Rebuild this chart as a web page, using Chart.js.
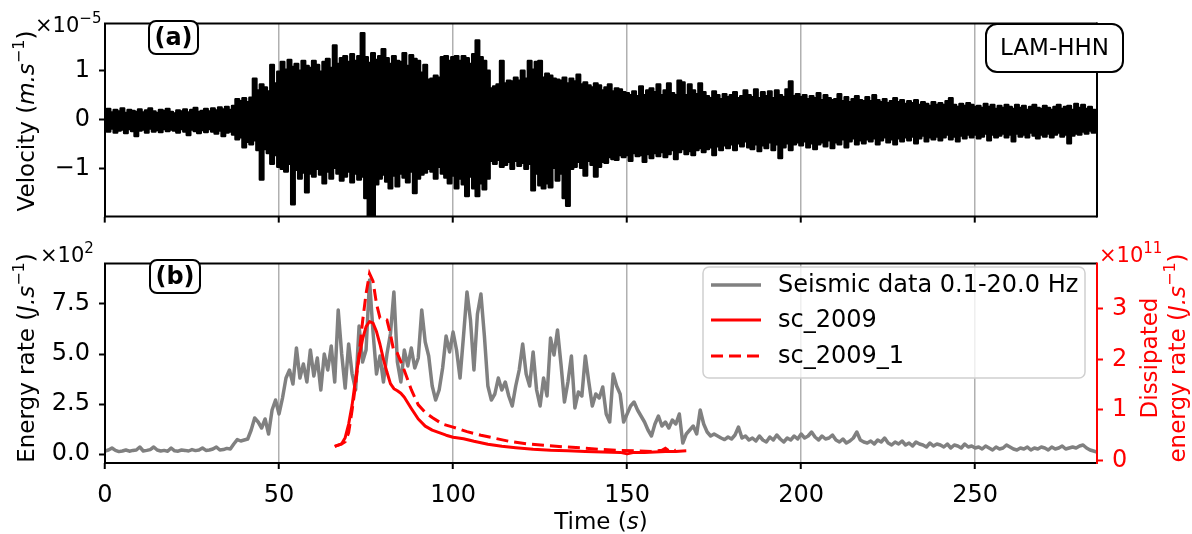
<!DOCTYPE html>
<html>
<head>
<meta charset="utf-8">
<script src="https://cdn.jsdelivr.net/npm/chart.js@4.4.0/dist/chart.umd.min.js"></script>
<style>
  body { margin: 0; background: #fff; width: 1192px; height: 534px; overflow: hidden; position: relative; }
  #velChart { position: absolute; left: 0; top: 0; }
  #energyChart { position: absolute; left: 0; top: 240px; }
</style>
</head>
<body>
<canvas id="velChart" width="1192" height="240"></canvas>
<canvas id="energyChart" width="1192" height="294"></canvas>
<script>
// time base of the envelopes / energy rate (s), one sample per second
var sampleTimes = [];
for (var s = 0; s <= 285; s++) sampleTimes.push(s);

// (a) LAM-HHN velocity, upper and lower envelope per second (x 1e-5 m/s)
var velUpper = [
    0.18, 0.22, 0.15, 0.2, 0.17, 0.23, 0.14, 0.2, 0.18, 0.16,
    0.21, 0.15, 0.19, 0.23, 0.17, 0.14, 0.2, 0.18, 0.22, 0.16,
    0.13, 0.19, 0.17, 0.21, 0.15, 0.2, 0.24, 0.16, 0.18, 0.22,
    0.17, 0.23, 0.19, 0.25, 0.21, 0.26, 0.2, 0.28, 0.42, 0.38,
    0.44, 0.36, 0.45, 0.84, 0.6, 0.72, 0.66, 0.58, 1.12, 0.74,
    0.98, 1.18, 1.02, 1.22, 1.08, 1.14, 1.0, 1.2, 1.1, 1.06,
    1.2, 1.12, 0.98, 1.18, 1.24, 1.06, 1.52, 1.14, 1.26, 1.3,
    1.18, 1.34, 1.2, 1.3, 1.77, 1.28, 1.16, 1.36, 1.22, 1.3,
    1.44, 1.26, 1.14, 1.3, 1.2, 1.18, 1.36, 1.1, 1.32, 1.24,
    1.2, 0.96, 1.12, 0.82, 0.84, 0.9, 0.86, 1.28, 1.3, 1.2,
    1.28, 1.3, 1.2, 1.3, 1.26, 1.14, 1.34, 1.62, 1.28, 1.2,
    1.0, 0.64, 0.68, 0.72, 1.2, 0.74, 0.8, 0.78, 0.86, 0.8,
    1.0, 0.84, 1.2, 1.02, 1.18, 1.2, 0.86, 0.94, 0.9, 0.84,
    0.82, 0.8, 0.86, 0.74, 0.84, 0.78, 0.92, 0.72, 0.76, 0.7,
    0.66, 0.74, 0.7, 0.6, 0.66, 0.72, 0.58, 0.64, 0.62, 0.56,
    0.54, 0.5, 0.58, 0.48, 0.68, 0.5, 0.6, 0.64, 0.56, 0.72,
    0.5, 0.6, 0.74, 0.54, 0.5, 0.8, 0.76, 0.5, 0.72, 0.6,
    0.52, 0.74, 0.56, 0.48, 0.44, 0.58, 0.5, 0.42, 0.52, 0.46,
    0.5, 0.56, 0.44, 0.48, 0.6, 0.5, 0.46, 0.62, 0.44, 0.56,
    0.48, 0.58, 0.44, 0.6, 0.5, 0.46, 0.62, 0.78, 0.48, 0.52,
    0.46, 0.5, 0.42, 0.48, 0.44, 0.54, 0.4, 0.5, 0.44, 0.4,
    0.42, 0.52, 0.38, 0.46, 0.36, 0.42, 0.48, 0.4, 0.38, 0.46,
    0.38, 0.5, 0.4, 0.36, 0.42, 0.34, 0.38, 0.44, 0.36, 0.4,
    0.32, 0.38, 0.34, 0.4, 0.3, 0.36, 0.32, 0.28, 0.36, 0.3,
    0.34, 0.3, 0.38, 0.44, 0.3, 0.26, 0.32, 0.28, 0.34, 0.3,
    0.26, 0.28, 0.24, 0.32, 0.26, 0.3, 0.22, 0.28, 0.24, 0.3,
    0.26, 0.22, 0.3, 0.24, 0.28, 0.2, 0.26, 0.3, 0.24, 0.22,
    0.28, 0.24, 0.2, 0.26, 0.3, 0.22, 0.26, 0.28, 0.2, 0.32,
    0.24, 0.3, 0.22, 0.26, 0.2, 0.18
];
var velLower = [
    -0.2, -0.24, -0.18, -0.26, -0.22, -0.2, -0.27, -0.19, -0.23, -0.33,
    -0.22, -0.2, -0.26, -0.18, -0.24, -0.21, -0.25, -0.19, -0.23, -0.2,
    -0.22, -0.26, -0.19, -0.24, -0.31, -0.2, -0.23, -0.27, -0.21, -0.25,
    -0.19, -0.24, -0.28, -0.22, -0.33, -0.26, -0.24, -0.3, -0.4, -0.36,
    -0.56, -0.45, -0.5, -0.42, -0.62, -1.22, -0.6, -0.68, -0.9, -0.72,
    -0.96, -1.0, -1.06, -0.9, -1.73, -1.02, -1.2, -1.08, -1.48, -1.1,
    -1.16, -1.0, -1.12, -1.3, -1.06, -1.2, -0.98, -1.1, -1.24, -1.16,
    -1.06, -1.28, -1.1, -1.22, -1.16, -1.6, -1.98, -1.98, -1.32, -1.2,
    -1.12, -1.26, -1.4, -1.14, -1.36, -1.1, -1.18, -1.28, -1.06, -1.5,
    -1.2, -1.12, -1.08, -1.0, -1.06, -1.2, -0.96, -1.1, -1.18, -1.3,
    -1.14, -1.4, -1.2, -1.32, -1.56, -1.16, -1.4, -1.56, -1.3, -1.42,
    -1.2, -0.84, -0.9, -0.82, -0.96, -0.92, -0.86, -1.0, -0.84, -0.94,
    -0.88, -1.0, -0.9, -1.44, -1.1, -1.34, -1.4, -1.3, -1.38, -0.98,
    -1.24, -1.1, -1.6, -1.76, -1.0, -0.96, -0.86, -0.98, -1.14, -0.84,
    -0.92, -1.16, -0.96, -0.86, -0.88, -0.76, -0.8, -0.82, -0.72, -0.76,
    -0.72, -0.84, -0.68, -0.74, -0.72, -0.86, -0.7, -0.78, -0.68, -0.74,
    -0.66, -0.76, -0.7, -0.62, -0.8, -0.66, -0.6, -0.7, -0.64, -0.72,
    -0.62, -0.58, -0.66, -0.6, -0.56, -0.72, -0.54, -0.62, -0.52, -0.58,
    -0.5, -0.62, -0.48, -0.54, -0.44, -0.56, -0.6, -0.5, -0.64, -0.52,
    -0.58, -0.46, -0.62, -0.5, -0.78, -0.56, -0.48, -0.62, -0.5, -0.46,
    -0.52, -0.44, -0.56, -0.48, -0.6, -0.5, -0.46, -0.54, -0.42, -0.58,
    -0.46, -0.5, -0.4, -0.56, -0.44, -0.38, -0.5, -0.42, -0.48, -0.4,
    -0.44, -0.38, -0.5, -0.42, -0.36, -0.46, -0.4, -0.5, -0.38, -0.44,
    -0.36, -0.42, -0.34, -0.48, -0.38, -0.32, -0.44, -0.36, -0.4, -0.34,
    -0.42, -0.36, -0.3, -0.4, -0.34, -0.44, -0.32, -0.38, -0.3, -0.36,
    -0.3, -0.38, -0.34, -0.28, -0.42, -0.3, -0.36, -0.32, -0.28, -0.36,
    -0.3, -0.44, -0.28, -0.34, -0.3, -0.36, -0.26, -0.32, -0.38, -0.3,
    -0.34, -0.28, -0.36, -0.3, -0.26, -0.34, -0.3, -0.48, -0.32, -0.28,
    -0.3, -0.24, -0.28, -0.22, -0.26, -0.2
];

// (b) seismic energy rate 0.1-20.0 Hz (x 1e2 J/s)
var energyRate = [
    0.15, 0.2, 0.3, 0.18, 0.12, 0.15, 0.2, 0.14, 0.18, 0.2,
    0.35, 0.15, 0.18, 0.22, 0.35, 0.2, 0.15, 0.18, 0.14, 0.3,
    0.16, 0.14, 0.2, 0.18, 0.15, 0.22, 0.17, 0.2, 0.3, 0.18,
    0.2, 0.25, 0.35, 0.2, 0.22, 0.28, 0.25, 0.5, 0.72, 0.65,
    0.7, 0.75, 1.2, 1.8, 1.6, 1.3, 1.75, 1.0, 2.2, 2.7,
    2.0, 2.8, 3.8, 4.2, 3.5, 5.3, 3.8, 4.5, 3.6, 5.2,
    3.9, 4.8, 3.2, 5.0, 4.2, 5.4, 3.6, 7.2, 5.0, 3.3,
    5.5, 4.0, 3.2, 6.4, 4.6, 5.2, 8.7, 6.1, 4.0, 4.9,
    3.6, 5.0, 6.0, 8.1, 4.6, 3.6, 5.2, 4.4, 5.3, 4.3,
    4.8, 7.2, 5.6, 4.9, 3.4, 2.7, 3.2, 4.3, 5.9, 5.1,
    6.1, 5.2, 3.8, 5.9, 8.1, 6.7, 4.2, 7.0, 8.0, 5.9,
    3.4, 2.7, 3.0, 3.8, 3.2, 3.6, 2.9, 2.4, 3.4, 4.2,
    5.5, 4.0, 3.4, 5.1, 3.2, 2.4, 3.8, 2.9, 5.8, 4.95,
    6.2, 4.5, 2.6, 3.6, 4.9, 2.3, 3.1, 2.9, 4.9, 3.6,
    2.4, 3.0, 2.8, 3.35, 2.0, 1.6, 4.0, 3.4, 3.0, 1.6,
    2.0, 2.4, 2.6, 2.2, 1.9, 1.6, 1.2, 0.9, 1.5, 1.9,
    1.4, 1.6, 1.3, 1.7, 1.5, 2.0, 0.55, 1.0, 1.2, 1.4,
    1.0, 2.2, 1.5, 1.1, 0.9, 1.0, 0.9, 0.8, 0.72, 0.85,
    0.75, 0.95, 1.35, 0.8, 0.9, 0.7, 0.8, 0.65, 0.9, 0.7,
    0.6, 0.85, 0.7, 0.95, 0.75, 0.6, 0.8, 0.7, 0.9, 0.75,
    1.0, 0.8, 0.9, 1.1, 0.85, 0.7, 0.9, 0.75, 0.8, 0.95,
    0.7, 0.6, 0.75, 0.55, 0.65, 0.8, 1.1, 0.7, 0.6, 0.55,
    0.65, 0.5, 0.7, 0.6, 0.8, 0.55, 0.45, 0.6, 0.5, 0.65,
    0.45, 0.55, 0.4, 0.6, 0.5, 0.45, 0.35, 0.55, 0.4, 0.5,
    0.45, 0.35, 0.5, 0.3, 0.45, 0.4, 0.3, 0.5, 0.35, 0.4,
    0.3, 0.35, 0.25, 0.4, 0.3, 0.2, 0.35, 0.25, 0.3, 0.45,
    0.35, 0.25, 0.2, 0.3, 0.25, 0.35, 0.2, 0.3, 0.25, 0.35,
    0.3, 0.2, 0.35, 0.25, 0.3, 0.4, 0.25, 0.3, 0.35, 0.3,
    0.4, 0.45, 0.3, 0.2, 0.15, 0.1
];

// dissipated energy rate of the models (x 1e11 J/s)
var sc2009Time = [66, 68, 69, 70, 71, 72, 73, 74, 75, 76, 77, 78, 79, 80, 81, 82, 83, 84, 85, 86, 88, 90, 92, 94, 96, 98,
    100, 103, 106, 110, 114, 118, 123, 128, 133, 138, 143, 148, 150, 152, 155, 158, 161, 164, 167];
var sc2009Rate = [0.28, 0.33, 0.45, 0.72, 1.1, 1.62, 2.05, 2.4, 2.65, 2.75, 2.72, 2.55, 2.3, 2.0, 1.75, 1.52, 1.42, 1.38, 1.33, 1.25,
    1.03, 0.82, 0.68, 0.6, 0.55, 0.5, 0.46, 0.43, 0.38, 0.32, 0.28, 0.25, 0.22, 0.2, 0.19, 0.18, 0.17, 0.16, 0.13, 0.16,
    0.16, 0.17, 0.18, 0.18, 0.19];
var sc2009bTime = [66, 68, 69, 70, 71, 72, 73, 74, 75, 76, 77, 78, 79, 80, 81, 82, 83, 84, 85, 86, 88, 90, 92, 94, 97,
    100, 104, 108, 112, 116, 121, 126, 132, 137, 142, 147, 152, 157, 160, 161, 162, 164];
var sc2009bRate = [0.28, 0.33, 0.37, 0.55, 1.0, 1.5, 2.1, 2.75, 3.3, 3.7, 3.55, 3.1, 2.82, 2.8, 2.78, 2.5, 2.15, 2.12, 1.95, 1.78,
    1.4, 1.1, 0.95, 0.85, 0.72, 0.66, 0.57, 0.5, 0.44, 0.38, 0.33, 0.3, 0.27, 0.25, 0.22, 0.2, 0.19, 0.18, 0.2, 0.24,
    0.19, 0.2];

// tick values
var timeTicks = [0, 50, 100, 150, 200, 250];
var velTicks = [-1, 0, 1];
var energyTicks = [0, 2.5, 5, 7.5];
var dissTicks = [0, 1, 2, 3];

var FONT = '"DejaVu Sans", sans-serif';
Chart.defaults.font.family = FONT;
Chart.defaults.color = '#000';

function toPoints(xs, ys) {
    return xs.map(function (x, i) { return { x: x, y: ys[i] }; });
}

function setTicks(values) {
    return function (scale) {
        scale.ticks = values.map(function (v) { return { value: v }; });
    };
}

function minusSign(v) {
    return v < 0 ? '\u2212' + Math.abs(v) : String(v);
}

function roundRect(ctx, x, y, w, h, r) {
    ctx.beginPath();
    ctx.moveTo(x + r, y);
    ctx.lineTo(x + w - r, y);
    ctx.arcTo(x + w, y, x + w, y + r, r);
    ctx.lineTo(x + w, y + h - r);
    ctx.arcTo(x + w, y + h, x + w - r, y + h, r);
    ctx.lineTo(x + r, y + h);
    ctx.arcTo(x, y + h, x, y + h - r, r);
    ctx.lineTo(x, y + r);
    ctx.arcTo(x, y, x + r, y, r);
    ctx.closePath();
}

function runFont(run, size) {
    var sz = run.sup ? Math.round(size * 0.7) : size;
    return (run.it ? 'italic ' : '') + (run.b ? 'bold ' : '') + sz + 'px ' + FONT;
}

// text made of runs (italic, superscript), optionally rotated
function drawRich(ctx, item) {
    ctx.save();
    ctx.translate(item.x, item.y);
    ctx.rotate(item.angle || 0);
    var total = 0;
    item.runs.forEach(function (r) {
        ctx.font = runFont(r, item.size);
        r.w = ctx.measureText(r.t).width;
        total += r.w;
    });
    var cx = item.align === 'center' ? -total / 2 : (item.align === 'right' ? -total : 0);
    ctx.fillStyle = item.color || '#000';
    ctx.textAlign = 'left';
    ctx.textBaseline = 'alphabetic';
    item.runs.forEach(function (r) {
        ctx.font = runFont(r, item.size);
        ctx.fillText(r.t, cx, r.sup ? -item.size * 0.45 : 0);
        cx += r.w;
    });
    ctx.restore();
}

var panelDecor = {
    id: 'panelDecor',
    afterDatasetsDraw: function (chart, args, opts) {
        var a = chart.chartArea, ctx = chart.ctx;
        ctx.save();
        ctx.lineWidth = 2;
        ctx.strokeStyle = '#000';
        ctx.beginPath();
        ctx.moveTo(a.right, a.top); ctx.lineTo(a.left, a.top);
        ctx.lineTo(a.left, a.bottom); ctx.lineTo(a.right, a.bottom);
        ctx.stroke();
        ctx.strokeStyle = opts.rightSpine || '#000';
        ctx.beginPath();
        ctx.moveTo(a.right, a.top - 1); ctx.lineTo(a.right, a.bottom + 1);
        ctx.stroke();
        ctx.restore();
    },
    afterDraw: function (chart, args, opts) {
        var ctx = chart.ctx;
        (opts.boxes || []).forEach(function (b) {
            ctx.save();
            roundRect(ctx, b.x, b.y, b.w, b.h, b.r);
            ctx.fillStyle = '#fff';
            ctx.fill();
            ctx.lineWidth = 2;
            ctx.strokeStyle = '#000';
            ctx.stroke();
            ctx.fillStyle = '#000';
            ctx.font = (b.bold ? 'bold ' : '') + b.size + 'px ' + FONT;
            ctx.textAlign = 'center';
            ctx.textBaseline = 'middle';
            ctx.fillText(b.text, b.x + b.w / 2, b.y + b.h / 2 + 1);
            ctx.restore();
        });
        (opts.texts || []).forEach(function (t) { drawRich(ctx, t); });
        var lg = opts.legend;
        if (lg) {
            ctx.save();
            roundRect(ctx, lg.x, lg.y, lg.w, lg.h, 6);
            ctx.fillStyle = 'rgba(255,255,255,0.8)';
            ctx.fill();
            ctx.lineWidth = 1.5;
            ctx.strokeStyle = '#d0d0d0';
            ctx.stroke();
            chart.data.datasets.forEach(function (ds, i) {
                var ry = lg.rows[i];
                ctx.beginPath();
                ctx.setLineDash(ds.borderDash || []);
                ctx.strokeStyle = ds.borderColor;
                ctx.lineWidth = ds.borderWidth;
                ctx.moveTo(lg.lineX0, ry);
                ctx.lineTo(lg.lineX1, ry);
                ctx.stroke();
                ctx.setLineDash([]);
                ctx.fillStyle = '#000';
                ctx.font = lg.size + 'px ' + FONT;
                ctx.textAlign = 'left';
                ctx.textBaseline = 'middle';
                ctx.fillText(ds.label, lg.textX, ry + 1);
            });
            ctx.restore();
        }
    }
};

var gridX = { color: '#b0b0b0', lineWidth: 1.5, drawTicks: true, tickLength: 6, tickColor: '#000', tickWidth: 2 };
var tickOnly = { display: true, drawOnChartArea: false, drawTicks: true, tickLength: 6, tickColor: '#000', tickWidth: 2 };

// (a) velocity: area between the upper and lower envelope
new Chart(document.getElementById('velChart'), {
    type: 'line',
    data: {
        datasets: [{
            label: 'LAM-HHN upper',
            data: toPoints(sampleTimes, velUpper),
            borderColor: '#000',
            borderWidth: 2.5,
            borderJoinStyle: 'round',
            backgroundColor: '#000',
            fill: '+1',
            stepped: 'middle',
            pointRadius: 0
        }, {
            label: 'LAM-HHN lower',
            data: toPoints(sampleTimes, velLower),
            borderColor: '#000',
            borderWidth: 2.5,
            borderJoinStyle: 'round',
            stepped: 'middle',
            pointRadius: 0
        }]
    },
    options: {
        responsive: false,
        animation: false,
        events: [],
        layout: { padding: { top: 16, right: 95, left: 0, bottom: 0 } },
        plugins: {
            legend: { display: false },
            tooltip: { enabled: false },
            panelDecor: {
                boxes: [
                    { text: '(a)', bold: true, size: 24, x: 149, y: 21, w: 49, h: 33, r: 7 },
                    { text: 'LAM-HHN', size: 23, x: 986, y: 24, w: 137, h: 48, r: 11 }
                ],
                texts: [
                    { runs: [{ t: 'Velocity (' }, { t: 'm.s', it: true }, { t: '\u22121', sup: true }, { t: ')' }],
                      x: 34, y: 121, size: 23, align: 'center', angle: -Math.PI / 2 },
                    { runs: [{ t: '\u00d710' }, { t: '\u22125', sup: true }], x: 35, y: 32, size: 21, align: 'left' }
                ]
            }
        },
        scales: {
            x: {
                type: 'linear', min: 0, max: 285,
                afterBuildTicks: setTicks(timeTicks),
                afterFit: function (scale) { scale.height = 17; },
                ticks: { display: false },
                grid: gridX,
                border: { display: false }
            },
            y: {
                min: -1.98, max: 1.97,
                afterBuildTicks: setTicks(velTicks),
                afterFit: function (scale) { scale.width = 105; },
                ticks: { font: { size: 24 }, padding: 9, callback: minusSign },
                grid: tickOnly,
                border: { display: false }
            }
        }
    },
    plugins: [panelDecor]
});

// (b) energy rate
new Chart(document.getElementById('energyChart'), {
    type: 'line',
    data: {
        datasets: [{
            label: 'Seismic data 0.1-20.0 Hz',
            data: toPoints(sampleTimes, energyRate),
            yAxisID: 'y',
            borderColor: '#808080',
            borderWidth: 3.5,
            borderJoinStyle: 'round',
            pointRadius: 0,
            order: 3
        }, {
            label: 'sc_2009',
            data: toPoints(sc2009Time, sc2009Rate),
            yAxisID: 'y2',
            borderColor: '#ff0000',
            borderWidth: 3,
            borderJoinStyle: 'round',
            pointRadius: 0,
            order: 2
        }, {
            label: 'sc_2009_1',
            data: toPoints(sc2009bTime, sc2009bRate),
            yAxisID: 'y2',
            borderColor: '#ff0000',
            borderWidth: 3,
            borderDash: [12, 6],
            pointRadius: 0,
            order: 1
        }]
    },
    options: {
        responsive: false,
        animation: false,
        events: [],
        layout: { padding: { top: 14, right: 0, left: 0, bottom: 0 } },
        plugins: {
            legend: { display: false },
            tooltip: { enabled: false },
            panelDecor: {
                rightSpine: '#ff0000',
                boxes: [
                    { text: '(b)', bold: true, size: 24, x: 150, y: 20, w: 50, h: 33, r: 7 }
                ],
                texts: [
                    { runs: [{ t: 'Energy rate (' }, { t: 'J.s', it: true }, { t: '\u22121', sup: true }, { t: ')' }],
                      x: 34, y: 118, size: 23, align: 'center', angle: -Math.PI / 2 },
                    { runs: [{ t: 'Dissipated' }], x: 1157, y: 118, size: 23, align: 'center', angle: -Math.PI / 2, color: '#ff0000' },
                    { runs: [{ t: 'energy rate (' }, { t: 'J.s', it: true }, { t: '\u22121', sup: true }, { t: ')' }],
                      x: 1185, y: 118, size: 23, align: 'center', angle: -Math.PI / 2, color: '#ff0000' },
                    { runs: [{ t: '\u00d710' }, { t: '2', sup: true }], x: 40, y: 22, size: 21, align: 'left' },
                    { runs: [{ t: '\u00d710' }, { t: '11', sup: true }], x: 1099, y: 22, size: 21, align: 'left', color: '#ff0000' },
                    { runs: [{ t: 'Time (' }, { t: 's', it: true }, { t: ')' }], x: 601, y: 289, size: 23, align: 'center' }
                ],
                legend: { x: 703, y: 27, w: 382, h: 111, rows: [45, 80, 116], lineX0: 711, lineX1: 761, textX: 778, size: 24 }
            }
        },
        scales: {
            x: {
                type: 'linear', min: 0, max: 285,
                afterBuildTicks: setTicks(timeTicks),
                afterFit: function (scale) { scale.height = 71; },
                ticks: { font: { size: 24 }, padding: 12 },
                grid: gridX,
                border: { display: false }
            },
            y: {
                position: 'left',
                min: -0.45, max: 9.53,
                afterBuildTicks: setTicks(energyTicks),
                afterFit: function (scale) { scale.width = 105; },
                ticks: { font: { size: 24 }, padding: 9, callback: function (v) { return v.toFixed(1); } },
                grid: tickOnly,
                border: { display: false }
            },
            y2: {
                position: 'right',
                min: -0.05, max: 3.9,
                afterBuildTicks: setTicks(dissTicks),
                afterFit: function (scale) { scale.width = 95; },
                ticks: { font: { size: 24 }, padding: 9, color: '#ff0000' },
                grid: { display: true, drawOnChartArea: false, drawTicks: true, tickLength: 6, tickColor: '#ff0000', tickWidth: 2 },
                border: { display: false }
            }
        }
    },
    plugins: [panelDecor]
});
</script>
</body>
</html>
